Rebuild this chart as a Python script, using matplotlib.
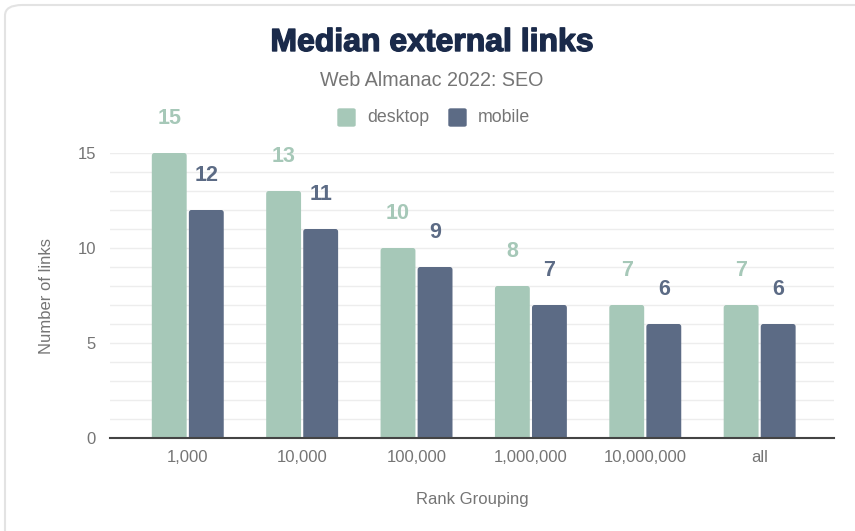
import matplotlib
matplotlib.use("Agg")
import matplotlib.pyplot as plt
import matplotlib.patheffects as pe
import numpy as np
from matplotlib.patches import FancyBboxPatch

categories = ["1,000", "10,000", "100,000", "1,000,000", "10,000,000", "all"]
desktop = [15, 13, 10, 8, 7, 7]
mobile = [12, 11, 9, 7, 6, 6]
series_names = ["desktop", "mobile"]
yticks = [0, 5, 10, 15]

c_desk = "#a6c8b8"
c_mob = "#5c6b85"
grey = "#757575"

plt.rcParams['font.family'] = ['Liberation Sans', 'DejaVu Sans']

W, H = 855, 531
fig = plt.figure(figsize=(W / 100, H / 100), dpi=100)
fig.patch.set_facecolor("white")

# frame
frame = FancyBboxPatch((5 / W, -20 / H), (W + 20) / W, (H - 5 + 20) / H,
                       boxstyle="round,pad=0,rounding_size=0.02",
                       transform=fig.transFigure, fill=False,
                       edgecolor="#e3e3e3", linewidth=1.5)
fig.patches.append(frame)

ax = fig.add_axes([110 / W, 1 - 438 / H, (834 - 110) / W, 285 / H])
x = np.arange(len(categories))
bw = 0.305
off = 0.162
bars1 = ax.bar(x - off, desktop, bw, color=c_desk, zorder=3)
bars2 = ax.bar(x + off, mobile, bw, color=c_mob, zorder=3)

# rounded tops: redraw each bar with a rounded box of the same geometry
for bars, col in [(bars1, c_desk), (bars2, c_mob)]:
    for p in bars:
        p.set_visible(False)
        fb = FancyBboxPatch((p.get_x(), -0.3), p.get_width(), p.get_height() + 0.3,
                            boxstyle="round,pad=0,rounding_size=0.022",
                            mutation_aspect=6.5, facecolor=col, edgecolor="none",
                            zorder=3)
        ax.add_patch(fb)

for xi, v in zip(x, desktop):
    ax.text(xi - off, v + 1.25, str(v), ha="center", va="bottom", color=c_desk,
            fontsize=15.5, fontweight="bold", clip_on=False)
for xi, v in zip(x, mobile):
    ax.text(xi + off, v + 1.25, str(v), ha="center", va="bottom", color=c_mob,
            fontsize=15.5, fontweight="bold", clip_on=False)

ax.set_xlim(-0.68, 5.65)
ax.set_ylim(0, 15)
ax.set_yticks(yticks)
ax.set_yticks(np.arange(0, 16, 1), minor=True)
ax.yaxis.grid(True, which="both", color="#ededed", linewidth=1, zorder=0)
ax.set_axisbelow(True)
ax.set_xticks(x)
ax.set_xticklabels(categories)
ax.tick_params(axis="both", which="both", length=0, colors=grey, labelsize=12)
ax.tick_params(axis="x", pad=9)
ax.tick_params(axis="y", pad=10)
for s in ["top", "right", "left"]:
    ax.spines[s].set_visible(False)
ax.spines["bottom"].set_color("#444444")
ax.spines["bottom"].set_linewidth(1.5)
ax.spines["bottom"].set_zorder(4)

ax.set_xlabel("Rank Grouping", color=grey, fontsize=12, labelpad=19)
ax.set_ylabel("Number of links", color=grey, fontsize=12, labelpad=17)

fig.text(432 / W, 1 - 43 / H, "Median external links", ha="center", va="center",
         fontsize=23, fontweight="heavy", color="#1a2a4a",
         path_effects=[pe.withStroke(linewidth=1.0, foreground="#1a2a4a")])
fig.text(432 / W, 1 - 81 / H, "Web Almanac 2022: SEO", ha="center", va="center",
         fontsize=14.2, color=grey)

# legend
for (lx, tx, name, col) in [(338, 367, series_names[0], c_desk), (449, 478, series_names[1], c_mob)]:
    fig.patches.append(FancyBboxPatch((lx / W, 1 - 126 / H), 17 / W, 17 / H,
                                      boxstyle="round,pad=0,rounding_size=0.002",
                                      transform=fig.transFigure, color=col))
    fig.text(tx / W, 1 - 117 / H, name, ha="left", va="center", fontsize=12.8, color=grey)

fig.savefig("out.png", dpi=100)
